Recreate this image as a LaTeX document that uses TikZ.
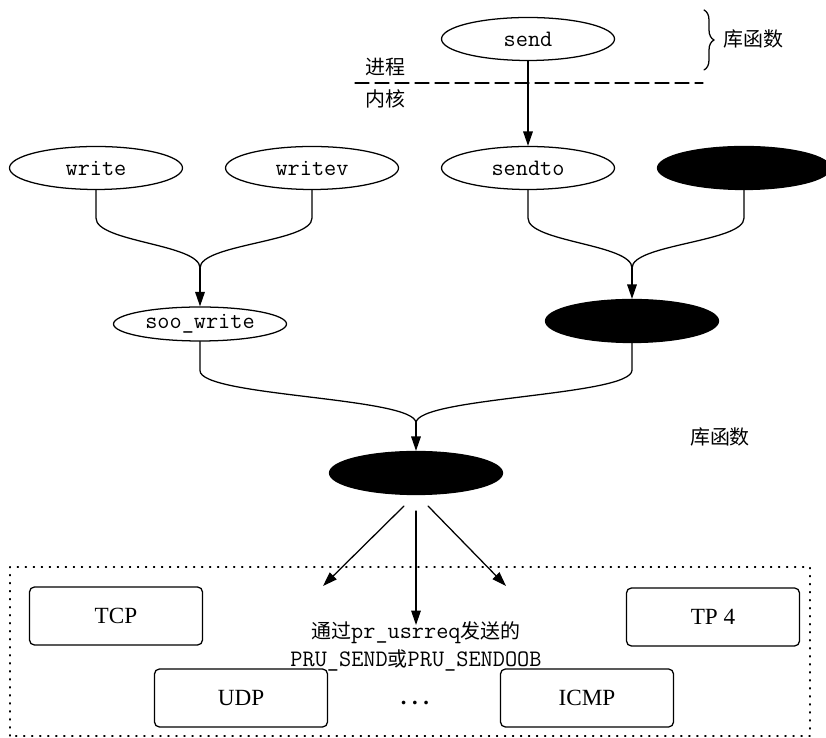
\documentclass[tikz,border=0pt]{standalone}
\usepackage{fontspec}
\setmainfont{Liberation Serif}
\newfontfamily\cjk{Noto Sans CJK SC}
\usetikzlibrary{shapes.geometric,arrows.meta,decorations.pathreplacing}
\tikzset{call/.style={ellipse,draw=black,line width=.9pt,minimum width=4.325cm,minimum height=1.075cm,inner sep=0pt,font=\ttfamily\fontsize{16.8pt}{19pt}\selectfont},
 hidden/.style={call,fill=black},
 proto/.style={draw=black,line width=.9pt,rounded corners=3.5pt,minimum width=4.325cm,minimum height=1.45cm,inner sep=0pt,font=\fontsize{16.5pt}{19pt}\selectfont},
 link/.style={line width=.9pt},
 flow/.style={line width=.9pt,-{Triangle[length=3.6mm,width=2.4mm]}},
 zh/.style={inner sep=0pt,font=\cjk\fontsize{14.2pt}{17pt}\selectfont},
 every picture/.style={line join=round,line cap=round}}

\begin{document}
\begin{tikzpicture}[]
\useasboundingbox (0,0) rectangle (20.65,18.425);
\node[call] (send) at (13.2,17.45) {send};
\node[call] (sendto) at (13.2,14.225) {sendto};
\node[call] (write) at (2.4,14.225) {write};
\node[call] (writev) at (7.8,14.225) {writev};
\node[hidden] (hidA) at (18.6,14.225) {};
\node[call,minimum height=.85cm] (soo) at (5.000,10.325) {soo\_write};
\node[hidden] (hidB) at (15.8,10.4) {};
\node[hidden] (hidC) at (10.4,6.6) {};
\coordinate (mw) at (5.000,11.725);
\coordinate (ms) at (15.8,11.725);
\coordinate (mc) at (10.4,7.85);
\draw[flow] (send) -- (sendto);
\draw[link] (write.south) -- ++(0,-.7) .. controls +(0,-.6) and +(0,.6) .. (mw);
\draw[link] (writev.south) -- ++(0,-.7) .. controls +(0,-.6) and +(0,.6) .. (mw);
\draw[flow] (mw) -- (soo.north);
\draw[link] (sendto.south) -- ++(0,-.7) .. controls +(0,-.6) and +(0,.6) .. (ms);
\draw[link] (hidA.south) -- ++(0,-.7) .. controls +(0,-.6) and +(0,.6) .. (ms);
\draw[flow] (ms) -- (hidB.north);
\draw[link] (soo.south) -- ++(0,-.725) .. controls +(0,-.65) and +(0,.65) .. (mc);
\draw[link] (hidB.south) -- ++(0,-.675) .. controls +(0,-.65) and +(0,.65) .. (mc);
\draw[flow] (mc) -- (hidC.north);
% process / kernel
\draw[line width=.9pt,dash pattern=on .35cm off .15cm] (8.875,16.35) -- (17.575,16.35);
\node[zh] (proc) at (9.625,16.75) {进程};
\node[zh] (kern) at (9.625,15.95) {内核};
\draw[line width=.9pt,decorate,decoration={brace,amplitude=.25cm}] (17.6,18.175) -- (17.6,16.675);
\node[zh,anchor=west] (libA) at (18.075,17.45) {库函数};
\node[zh] (libB) at (18.0,7.5) {库函数};
% protocols
\coordinate (la) at (10.1,5.775);
\coordinate (lb) at (8.075,3.775);
\coordinate (ca) at (10.4,5.65);
\coordinate (cb) at (10.4,2.8);
\coordinate (ra) at (10.7,5.775);
\coordinate (rb) at (12.65,3.775);
\draw[flow] (la) -- (lb);
\draw[flow] (ca) -- (cb);
\draw[flow] (ra) -- (rb);
\draw[line width=.9pt,dash pattern=on .8pt off 4.9pt] (0.25,0.025) rectangle (20.25,4.25);
\node[proto] (tcp) at (2.9,3.025) {TCP};
\node[proto] (udp) at (6.025,0.975) {UDP};
\node[proto] (tp) at (17.825,3.0) {TP 4};
\node[proto] (icmp) at (14.675,0.975) {ICMP};
\node[align=center,inner sep=0pt,font=\fontsize{16.8pt}{19.8pt}\selectfont] (note) at (10.4,2.26) {{\cjk\fontsize{14.2pt}{19.8pt}\selectfont 通过}\texttt{pr\_usrreq}{\cjk\fontsize{14.2pt}{19.8pt}\selectfont 发送的}\\\texttt{PRU\_SEND}{\cjk\fontsize{14.2pt}{19.8pt}\selectfont 或}\texttt{PRU\_SENDOOB}};
\node[anchor=base,inner sep=0pt,font=\fontsize{16pt}{19pt}\selectfont\bfseries] (dots) at (10.375,0.8) {.~.~.};
\end{tikzpicture}
\end{document}
